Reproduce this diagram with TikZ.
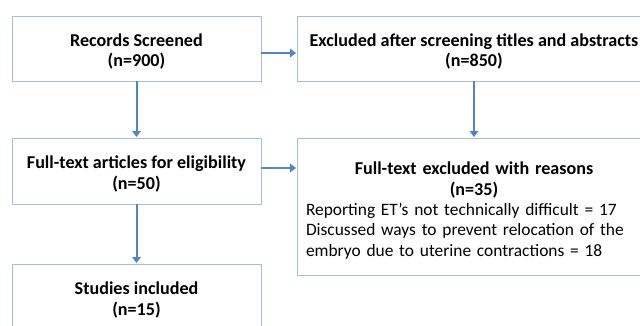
\documentclass[tikz,border=0pt]{standalone}
\usepackage{fontspec}
\setmainfont{Carlito}
\usetikzlibrary{arrows.meta}
\definecolor{boxline}{RGB}{165,190,222}
\definecolor{arrowblue}{RGB}{84,132,196}
\newcommand{\hd}[1]{{\fontsize{18.1}{20.5}\selectfont\bfseries #1}}
\tikzset{
  flowbox/.style={draw=boxline, line width=0.9pt, fill=white, inner sep=0pt},
  boxtext/.style={align=center, inner sep=0pt, font=\fontsize{17.4}{20.3}\selectfont},
  arr/.style={draw=arrowblue, line width=2pt,
    -{Triangle[width=8.5pt,length=6pt]}, shorten >=0.5pt}
}
\begin{document}
\begin{tikzpicture}[x=1pt, y=-1pt]
  \useasboundingbox (0,0) rectangle (640,326);
  \clip (0,0) rectangle (640,326);
  \fill[white] (0,0) rectangle (640,326);

  % left column
  \node[flowbox, minimum width=249pt, minimum height=65pt] (b1) at (136.5,48.5) {};
  \node[boxtext] (t1) at ([yshift=-3pt]b1.center)
    {\hd{Records Screened}\\\hd{(n=900)}};
  \node[flowbox, minimum width=249pt, minimum height=66pt] (b3) at (136.5,171) {};
  \node[boxtext] (t3) at ([yshift=-3pt]b3.center)
    {\hd{Full-text articles for eligibility}\\\hd{(n=50)}};
  \node[flowbox, minimum width=249pt, minimum height=66pt] (b5) at (136.5,297) {};
  \node[boxtext] (t5) at ([yshift=-3pt]b5.center)
    {\hd{Studies included}\\\hd{(n=15)}};

  % right column
  \node[flowbox, minimum width=354pt, minimum height=65pt] (b2) at (474,48.5) {};
  \node[boxtext] (t2) at ([yshift=-3pt]b2.center)
    {\hd{Excluded after screening titles and abstracts}\\\hd{(n=850)}};
  \node[flowbox, minimum width=354pt, minimum height=137pt] (b4) at (474,206.5) {};
  \node[boxtext, text width=336pt, align=left] (t4) at ([yshift=-4pt]b4.center)
    {{\centering\hd{Full-text excluded with reasons}\\\hd{(n=35)}\par}%
     Reporting ET’s not technically difficult = 17\\
     Discussed ways to prevent relocation of the\\
     embryo due to uterine contractions = 18};

  % connectors
  \draw[arr] ([yshift=-4.5pt]b1.east) -- ([yshift=-4.5pt]b1.east -| b2.west);
  \draw[arr] (b1.south) -- (b3.north);
  \draw[arr] (b2.south) -- (b4.north);
  \draw[arr] ([yshift=3pt]b3.east) -- ([yshift=3pt]b3.east -| b4.west);
  \draw[arr] (b3.south) -- (b5.north);
\end{tikzpicture}
\end{document}
